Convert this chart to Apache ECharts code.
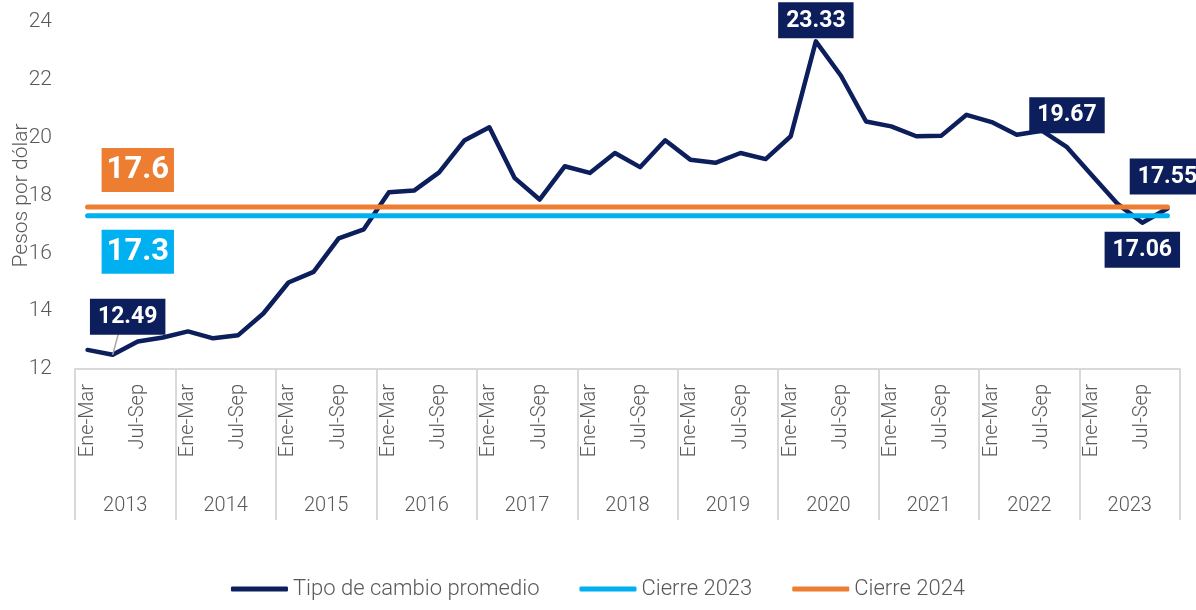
<!DOCTYPE html>
<html>
<head>
<meta charset="utf-8">
<script src="https://cdn.jsdelivr.net/npm/echarts@6/dist/echarts.min.js"></script>
<style>
  html, body { margin: 0; padding: 0; background: #fff; }
  #main { width: 1196px; height: 610px; }
</style>
</head>
<body>
<div id="main"></div>
<script>
    // datos
    var years = ['2013', '2014', '2015', '2016', '2017', '2018', '2019', '2020', '2021', '2022', '2023'];
    var quarters = ['Ene-Mar', 'Abr-Jun', 'Jul-Sep', 'Oct-Dic'];
    var tipoCambio = [
        12.66, 12.49, 12.95, 13.09,
        13.30, 13.06, 13.17, 13.92,
        14.99, 15.36, 16.52, 16.83,
        18.11, 18.17, 18.80, 19.90,
        20.36, 18.61, 17.86, 19.01,
        18.78, 19.47, 18.98, 19.91,
        19.24, 19.13, 19.47, 19.26,
        20.05, 23.33, 22.14, 20.56,
        20.39, 20.05, 20.07, 20.79,
        20.54, 20.10, 20.24, 19.67,
        18.69, 17.72, 17.06, 17.55
    ];
    var cierre2023 = 17.3;
    var cierre2024 = 17.6;
    // puntos con etiqueta
    var labeledIdx = [1, 29, 39, 42, 43];

    var navy = '#0c1f5c';
    var blue = '#00b0f0';
    var orange = '#ed7d31';
    var gray = '#595959';
    var font = 'Roboto';

    var categories = [];
    years.forEach(function (y) {
        quarters.forEach(function (q) { categories.push(q); });
    });

    var boxLabel = {
        show: true,
        color: '#fff',
        backgroundColor: navy,
        fontFamily: font,
        fontWeight: 'bold',
        fontSize: 23,
        padding: [7, 8, 6, 8],
        formatter: function (p) { return p.value.toFixed(2); }
    };
    var labelPos = {
        1: { position: 'top', distance: 5 },
        29: { position: 'top', distance: 3, offset: [19, 0] },
        39: { position: 'top', distance: 14 },
        42: { position: 'bottom', distance: 9 },
        43: { position: 'top', distance: 14 }
    };

    var mainData = tipoCambio.map(function (v, i) {
        if (labeledIdx.indexOf(i) < 0) return v;
        var lab = Object.assign({}, boxLabel, labelPos[i]);
        var item = { value: v, label: lab };
        if (i === 1) item.labelLine = { show: true, lineStyle: { color: '#a6a6a6', width: 1.5 } };
        return item;
    });

    var flat2023 = categories.map(function () { return cierre2023; });
    var flat2024 = categories.map(function () { return cierre2024; });

    var bigLabel = function (color, pos) {
        return {
            show: true,
            position: pos,
            distance: pos === 'top' ? 15 : 14,
            color: '#fff',
            backgroundColor: color,
            fontFamily: font,
            fontWeight: 'bold',
            fontSize: 31,
            padding: [7, 5, 6, 5],
            formatter: function (p) { return String(p.value); }
        };
    };
    var data2023 = flat2023.map(function (v, i) {
        return i === 2 ? { value: v, label: bigLabel(blue, 'bottom') } : v;
    });
    var data2024 = flat2024.map(function (v, i) {
        return i === 2 ? { value: v, label: bigLabel(orange, 'top') } : v;
    });

    var myChart = echarts.init(document.getElementById('main'));
    var option = {
        animation: false,
        backgroundColor: '#fff',
        textStyle: { fontFamily: font },
        grid: { left: 75, right: 16, top: 22, bottom: 241, containLabel: false, outerBoundsMode: 'none' },
        legend: {
            bottom: 5,
            left: 'center',
            icon: 'roundRect',
            itemWidth: 57,
            itemHeight: 5,
            itemGap: 40,
            textStyle: { color: gray, fontSize: 22, fontFamily: font, fontWeight: 300 },
            data: ['Tipo de cambio promedio', 'Cierre 2023', 'Cierre 2024']
        },
        xAxis: [{
            type: 'category',
            data: categories,
            position: 'bottom',
            axisLine: { lineStyle: { color: '#d9d9d9', width: 2 } },
            axisTick: { show: false },
            axisLabel: {
                interval: 1,
                rotate: 90,
                margin: 15,
                color: gray,
                fontSize: 20,
                fontWeight: 300,
                fontFamily: font
            },
            splitLine: { show: false }
        }, {
            type: 'category',
            data: years,
            position: 'bottom',
            axisLine: { show: false },
            axisTick: { show: true, length: 151, lineStyle: { color: '#d9d9d9', width: 2 } },
            axisLabel: { margin: 127, color: gray, fontSize: 20, fontWeight: 300, fontFamily: font },
            splitLine: { show: false }
        }],
        yAxis: {
            type: 'value',
            min: 12,
            max: 24,
            interval: 2,
            name: 'Pesos por dólar',
            nameLocation: 'middle',
            nameGap: 43,
            nameMoveOverlap: false,
            nameTextStyle: { color: gray, fontSize: 21, fontWeight: 300, fontFamily: font },
            axisLine: { show: false },
            axisTick: { show: false },
            splitLine: { show: false },
            axisLabel: { color: gray, fontSize: 21, fontWeight: 300, margin: 23, fontFamily: font }
        },
        series: [{
            name: 'Tipo de cambio promedio',
            type: 'line',
            data: mainData,
            symbol: 'circle',
            symbolSize: 0,
            showSymbol: true,
            lineStyle: { color: navy, width: 4.5, cap: 'round', join: 'round' },
            itemStyle: { color: navy },
            label: { show: false },
            labelLayout: function (p) {
                if (p.dataIndex === 1) return { dx: 15, dy: -15 };
                return {};
            },
            z: 2
        }, {
            name: 'Cierre 2023',
            type: 'line',
            data: data2023,
            symbol: 'circle',
            symbolSize: 0,
            lineStyle: { color: blue, width: 5, cap: 'round' },
            itemStyle: { color: blue },
            label: { show: false },
            z: 3
        }, {
            name: 'Cierre 2024',
            type: 'line',
            data: data2024,
            symbol: 'circle',
            symbolSize: 0,
            lineStyle: { color: orange, width: 5, cap: 'round' },
            itemStyle: { color: orange },
            label: { show: false },
            z: 4
        }]
    };
    myChart.setOption(option);
</script>
</body>
</html>
